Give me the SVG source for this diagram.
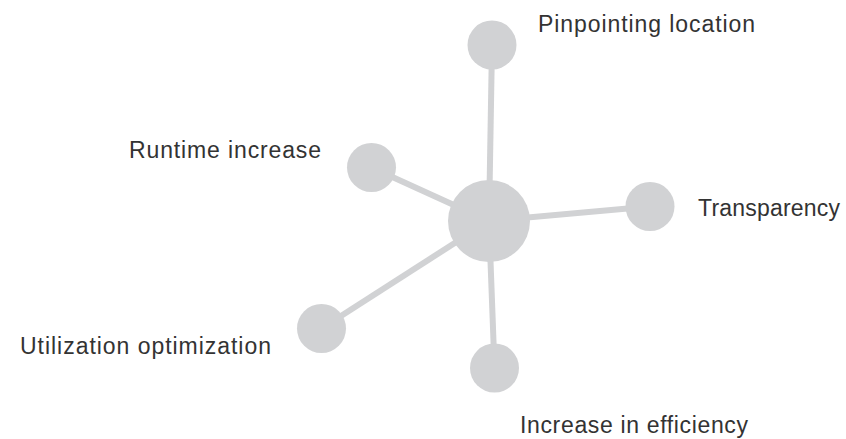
<svg xmlns="http://www.w3.org/2000/svg" width="846" height="439" viewBox="0 0 846 439">
<style>
.c{fill:#d1d2d4}
.l{stroke:#d1d2d4;stroke-width:6;fill:none}
.t{font-family:"Liberation Sans",Arial,sans-serif;font-size:23px;fill:#333333}
</style>
<rect width="846" height="439" fill="#ffffff"/>
<g id="connectors">
<line class="l" x1="489" y1="221" x2="492" y2="45"/>
<line class="l" x1="489" y1="221" x2="371.5" y2="167.5"/>
<line class="l" x1="489" y1="221" x2="650" y2="206.5"/>
<line class="l" x1="489" y1="221" x2="321.5" y2="328.5"/>
<line class="l" x1="489" y1="221" x2="494.5" y2="368"/>
</g>
<g id="center"><circle class="c" cx="489" cy="221" r="41"/></g>
<g id="pinpointing"><circle class="c" cx="492" cy="45" r="24.5"/><text class="t" x="538" y="32" textLength="217" lengthAdjust="spacing">Pinpointing location</text></g>
<g id="runtime"><circle class="c" cx="371.5" cy="167.5" r="24.5"/><text class="t" x="129" y="158" textLength="192" lengthAdjust="spacing">Runtime increase</text></g>
<g id="transparency"><circle class="c" cx="650" cy="206.5" r="24.5"/><text class="t" x="698" y="216" textLength="142" lengthAdjust="spacing">Transparency</text></g>
<g id="utilization"><circle class="c" cx="321.5" cy="328.5" r="24.5"/><text class="t" x="20" y="354" textLength="251" lengthAdjust="spacing">Utilization optimization</text></g>
<g id="efficiency"><circle class="c" cx="494.5" cy="368" r="24.5"/><text class="t" x="520" y="433" textLength="228" lengthAdjust="spacing">Increase in efficiency</text></g>
</svg>
